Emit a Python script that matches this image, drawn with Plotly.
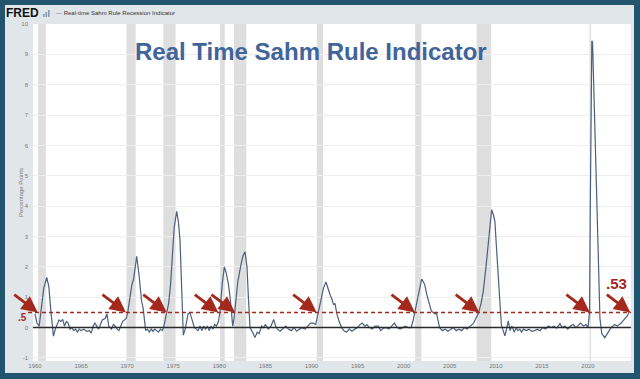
import plotly.graph_objects as go

# ---------------- data ----------------
years = [
    1960.0, 1960.2, 1960.45, 1960.7, 1960.95, 1961.27, 1961.5, 1961.7, 1961.87, 1962.0,
    1962.2, 1962.4, 1962.6, 1962.8, 1963.0, 1963.2, 1963.4, 1963.6, 1963.8, 1964.0,
    1964.2, 1964.4, 1964.6, 1964.8, 1965.0, 1965.3, 1965.6, 1965.9, 1966.1, 1966.3,
    1966.5, 1966.7, 1966.9, 1967.1, 1967.3, 1967.6, 1967.8, 1968.0, 1968.3, 1968.5,
    1968.7, 1968.9, 1969.1, 1969.3, 1969.5, 1969.7, 1969.9, 1970.06, 1970.3, 1970.5,
    1970.7, 1971.03, 1971.3, 1971.55, 1971.75, 1971.9, 1972.0, 1972.2, 1972.4, 1972.6,
    1972.8, 1973.0, 1973.2, 1973.4, 1973.6, 1973.8, 1973.95, 1974.1, 1974.29, 1974.5,
    1974.7, 1974.9, 1975.1, 1975.37, 1975.55, 1975.73, 1975.9, 1976.09, 1976.3, 1976.6,
    1976.8, 1977.0, 1977.3, 1977.5, 1977.7, 1977.9, 1978.1, 1978.3, 1978.5, 1978.7,
    1978.9, 1979.1, 1979.3, 1979.5, 1979.7, 1979.9, 1980.07, 1980.3, 1980.54, 1980.75,
    1981.0, 1981.2, 1981.45, 1981.6, 1981.8, 1982.0, 1982.3, 1982.55, 1982.78, 1983.0,
    1983.15, 1983.33, 1983.6, 1983.87, 1984.1, 1984.3, 1984.6, 1984.8, 1985.0, 1985.3,
    1985.6, 1985.9, 1986.1, 1986.3, 1986.6, 1986.9, 1987.2, 1987.5, 1987.8, 1988.1,
    1988.4, 1988.7, 1989.0, 1989.3, 1989.6, 1989.9, 1990.2, 1990.45, 1990.74, 1991.0,
    1991.3, 1991.57, 1991.8, 1992.0, 1992.2, 1992.4, 1992.55, 1992.75, 1993.0, 1993.27,
    1993.5, 1993.8, 1994.1, 1994.4, 1994.7, 1995.0, 1995.26, 1995.5, 1995.8, 1996.0,
    1996.3, 1996.6, 1996.9, 1997.25, 1997.5, 1997.8, 1998.1, 1998.4, 1998.7, 1999.0,
    1999.3, 1999.6, 1999.9, 2000.2, 2000.5, 2000.8, 2001.0, 2001.2, 2001.5, 2001.75,
    2001.95, 2002.15, 2002.3, 2002.5, 2002.7, 2002.85, 2003.0, 2003.2, 2003.4, 2003.55,
    2003.7, 2003.9, 2004.2, 2004.5, 2004.8, 2005.1, 2005.4, 2005.7, 2006.0, 2006.3,
    2006.6, 2006.9, 2007.2, 2007.55, 2007.85, 2008.1, 2008.4, 2008.64, 2008.9, 2009.18,
    2009.4, 2009.55, 2009.75, 2009.9, 2010.1, 2010.3, 2010.45, 2010.6, 2010.8, 2010.99,
    2011.2, 2011.35, 2011.55, 2011.75, 2012.0, 2012.2, 2012.4, 2012.6, 2012.8, 2013.0,
    2013.3, 2013.6, 2013.9, 2014.2, 2014.5, 2014.8, 2015.1, 2015.4, 2015.7, 2016.0,
    2016.3, 2016.6, 2016.96, 2017.2, 2017.5, 2017.8, 2018.1, 2018.4, 2018.7, 2018.9,
    2019.2, 2019.5, 2019.8, 2020.0, 2020.17, 2020.25, 2020.33, 2020.42, 2020.5, 2020.67,
    2020.87, 2021.1, 2021.3, 2021.5, 2021.83, 2022.2, 2022.5, 2022.9, 2023.2, 2023.6,
    2023.9, 2024.1, 2024.3, 2024.5,
]
values = [
    0.45, 0.15, 0.05, 0.6, 1.3, 1.65, 1.35, 0.6, 0.0, -0.28,
    -0.05, 0.1, 0.25, 0.2, 0.27, 0.05, 0.2, 0.15, -0.05, 0.0,
    -0.1, -0.05, -0.15, -0.05, -0.1, -0.05, -0.12, -0.1, -0.18, 0.05,
    0.15, 0.05, -0.05, 0.1, 0.25, 0.3, 0.45, 0.05, -0.05, 0.1,
    0.05, -0.05, -0.1, 0.05, 0.2, 0.25, 0.3, 0.5, 1.1, 1.4,
    1.6, 2.35, 1.7, 0.9, 0.6, 0.0, -0.1, -0.05, -0.15, -0.05,
    -0.12, -0.05, -0.1, -0.15, -0.05, -0.1, 0.0, 0.2, 0.5, 0.8,
    1.4, 2.4, 3.3, 3.83, 3.5, 2.9, 1.5, -0.25, -0.05, 0.45,
    0.5, 0.3, 0.0, -0.05, -0.1, 0.05, -0.1, 0.05, -0.05, 0.05,
    -0.1, 0.05, -0.05, 0.1, 0.05, 0.2, 0.5, 1.4, 2.0, 1.8,
    1.4, 0.9, 0.05, 0.3, 0.9, 1.5, 2.0, 2.35, 2.5, 2.0,
    1.0, 0.0, -0.15, -0.33, -0.15, -0.2, 0.05, 0.0, 0.1, -0.05,
    0.05, 0.27, 0.05, -0.05, -0.12, -0.05, 0.05, -0.05, -0.1, 0.0,
    -0.12, -0.05, 0.0, -0.05, 0.05, 0.15, 0.15, 0.1, 0.5, 0.9,
    1.3, 1.5, 1.25, 1.1, 0.95, 0.75, 0.8, 0.45, 0.2, 0.0,
    -0.1, -0.15, -0.05, -0.12, -0.05, 0.0, 0.1, 0.15, 0.05, 0.1,
    0.0, -0.05, 0.05, 0.05, -0.1, -0.02, 0.0, -0.05, 0.05, 0.15,
    0.0, -0.05, 0.0, 0.05, 0.0, 0.0, 0.2, 0.5, 0.9, 1.35,
    1.6, 1.5, 1.4, 1.1, 0.85, 0.65, 0.55, 0.5, 0.45, 0.5,
    0.25, 0.0, -0.1, -0.05, -0.12, -0.05, 0.0, -0.1, -0.05, -0.1,
    0.0, -0.05, 0.05, 0.13, 0.3, 0.46, 0.8, 1.2, 1.9, 2.72,
    3.5, 3.88, 3.7, 3.5, 2.5, 1.5, 0.87, 0.1, -0.1, -0.27,
    0.0, 0.22, -0.1, 0.05, -0.15, 0.0, -0.1, -0.05, -0.15, -0.05,
    -0.1, -0.05, -0.12, -0.1, -0.05, -0.1, 0.0, -0.05, 0.05, 0.0,
    0.05, -0.02, 0.13, 0.0, 0.05, -0.05, 0.05, 0.1, 0.0, 0.05,
    0.15, 0.05, 0.1, 0.0, 0.5, 3.9, 7.1, 9.45, 9.4, 7.2,
    4.9, 2.6, 0.3, -0.2, -0.33, -0.15, 0.0, 0.1, 0.05, 0.15,
    0.27, 0.35, 0.4, 0.53,
]
recession_start = [1960.33, 1969.92, 1973.92, 1980.08, 1981.58, 1990.58, 2001.25, 2007.92, 2020.17]
recession_end = [1961.17, 1970.92, 1975.25, 1980.58, 1982.92, 1991.25, 2001.92, 2009.5, 2020.33]
arrow_years = [1960.3, 1969.87, 1974.29, 1979.89, 1981.7, 1990.56, 2001.23, 2008.2, 2020.21, 2024.6]
threshold = 0.5
threshold_label = ".5"
latest_label = ".53"
xtick_vals = list(range(1960, 2021, 5))
xtick_text = [str(v) for v in xtick_vals]
ytick_vals = list(range(-1, 11))
ytick_text = [str(v) for v in ytick_vals]

title_text = "Real Time Sahm Rule Indicator"
series_name = "Real-time Sahm Rule Recession Indicator"
yaxis_title = "Percentage Points"

# ---------------- styles ----------------
W, H = 640, 379
ML, MR, MT, MB = 33, 9, 24, 18
PW, PH = W - ML - MR, H - MT - MB
XR = [1959.78, 2024.67]
YR = [-1.1, 10.0]

def px_x(px):
    return (px - ML) / PW

def px_y(py):
    return (H - MB - py) / PH

FONT = "Liberation Sans, Arial, sans-serif"
TEAL = "#21556d"
PANEL = "#e1e6eb"
LINE = "#4d5f7c"
RED = "#a3291d"

fig = go.Figure()
fig.add_trace(go.Scatter(x=years, y=values, mode="lines", name=series_name,
                         line=dict(color=LINE, width=1.2), hoverinfo="x+y"))

shapes = []
for s, e in zip(recession_start, recession_end):
    shapes.append(dict(type="rect", xref="x", yref="paper", x0=s, x1=e, y0=0, y1=1,
                       fillcolor="#dedede", line=dict(width=0), layer="below"))
# zero line and threshold line
shapes.append(dict(type="line", xref="paper", yref="y", x0=0, x1=1, y0=0, y1=0,
                   line=dict(color="#2a2a2a", width=1.5), layer="above"))
shapes.append(dict(type="line", xref="paper", yref="y", x0=px_x(28), x1=1, y0=threshold, y1=threshold,
                   line=dict(color=RED, width=1.5, dash="4px,3px"), layer="above"))
# small FRED chart icon
for bx, bh in [(43, 3), (45.5, 5), (48, 7)]:
    shapes.append(dict(type="rect", xref="paper", yref="paper",
                       x0=px_x(bx), x1=px_x(bx + 1.6), y0=px_y(17), y1=px_y(17 - bh),
                       fillcolor="#8a9bb0", line=dict(width=0), layer="above"))
# dark photo border around the panel
border = [
    (px_x(-20), px_x(5), px_y(-20), px_y(400)),
    (px_x(634), px_x(660), px_y(-20), px_y(400)),
    (px_x(-20), px_x(660), px_y(-20), px_y(5)),
    (px_x(-20), px_x(660), px_y(373), px_y(400)),
]
for x0, x1, y1, y0 in border:
    shapes.append(dict(type="rect", xref="paper", yref="paper", x0=x0, x1=x1, y0=y0, y1=y1,
                       fillcolor=TEAL, line=dict(width=0), layer="above"))

annotations = []
annotations.append(dict(text=title_text, xref="paper", yref="paper", x=px_x(311), y=px_y(52),
                        xanchor="center", yanchor="middle", showarrow=False,
                        font=dict(family=FONT, size=24, color="#41649a", weight="bold")))
annotations.append(dict(text="<b>FRED</b>", xref="paper", yref="paper", x=px_x(4), y=px_y(13),
                        xanchor="left", yanchor="middle", showarrow=False,
                        font=dict(family=FONT, size=12, color="#111111")))
annotations.append(dict(text="<span style='color:%s'>—</span> %s" % (LINE, series_name),
                        xref="paper", yref="paper", x=px_x(54), y=px_y(13),
                        xanchor="left", yanchor="middle", showarrow=False,
                        font=dict(family=FONT, size=6, color="#333333")))
annotations.append(dict(text=yaxis_title, xref="paper", yref="paper", x=px_x(21), y=px_y(193),
                        xanchor="center", yanchor="middle", textangle=-90, showarrow=False,
                        font=dict(family=FONT, size=6, color="#777777")))
annotations.append(dict(text="<b>%s</b>" % threshold_label, xref="paper", yref="y", x=px_x(22), y=0.33,
                        xanchor="center", yanchor="middle", showarrow=False,
                        font=dict(family=FONT, size=10, color=RED)))
annotations.append(dict(text="<b>%s</b>" % latest_label, xref="x", yref="y", x=2023.05, y=1.45,
                        xanchor="center", yanchor="middle", showarrow=False,
                        font=dict(family=FONT, size=15, color=RED)))
for ay_year in arrow_years:
    annotations.append(dict(text="", xref="x", yref="y", x=ay_year, y=threshold,
                            ax=-25, ay=-19, showarrow=True, arrowhead=2, arrowsize=1.15,
                            arrowwidth=2.8, arrowcolor=RED, standoff=0))

fig.update_layout(
    width=W, height=H,
    margin=dict(l=ML, r=MR, t=MT, b=MB, pad=0),
    paper_bgcolor=PANEL, plot_bgcolor="white",
    showlegend=False,
    shapes=shapes, annotations=annotations,
    font=dict(family=FONT),
    xaxis=dict(range=XR, tickvals=xtick_vals, ticktext=xtick_text, showgrid=False,
               zeroline=False, showline=False, ticks="",
               tickfont=dict(family=FONT, size=6, color="#777777")),
    yaxis=dict(range=YR, tickvals=ytick_vals, ticktext=ytick_text, showgrid=True,
               gridcolor="#eeeeee", gridwidth=1, zeroline=False, showline=False, ticks="",
               ticklabelstandoff=4,
               tickfont=dict(family=FONT, size=6, color="#777777")),
)

fig.write_html(
    "out.html",
    config={"displayModeBar": False},
    post_script="document.body.style.margin='0';document.body.style.overflow='hidden';",
)
